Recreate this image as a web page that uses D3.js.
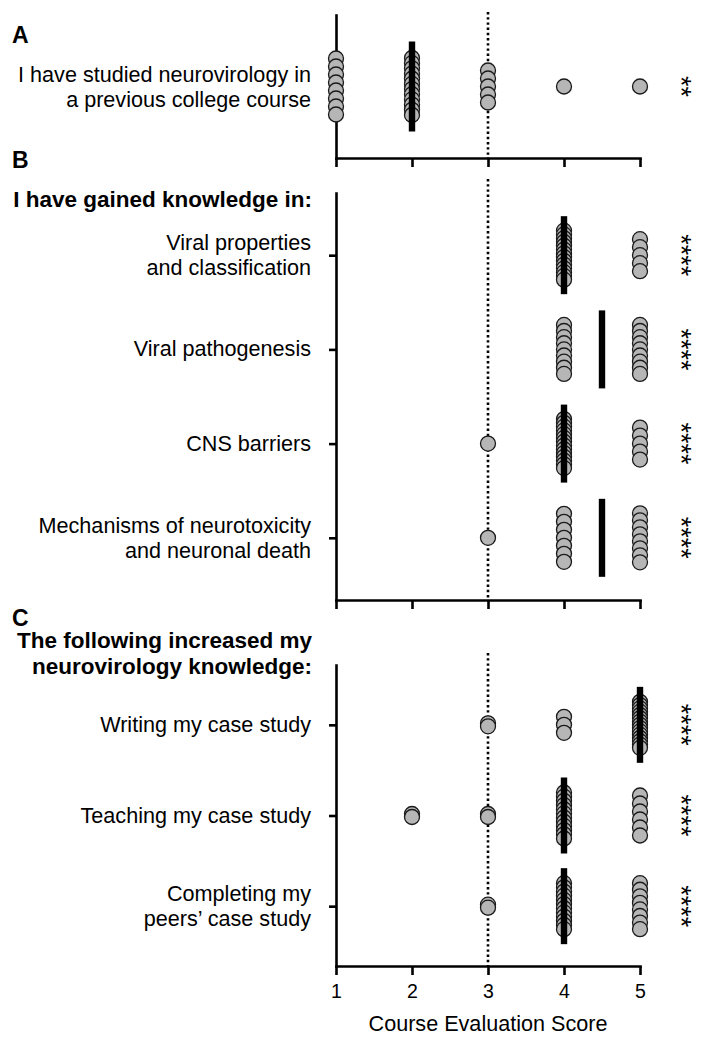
<!DOCTYPE html>
<html>
<head>
<meta charset="utf-8">
<script src="https://cdn.jsdelivr.net/npm/d3@7"></script>
<style>
  body { margin: 0; background: #fff; }
  svg { display: block; font-family: "Liberation Sans", Arial, Helvetica, sans-serif; }
</style>
</head>
<body>
<svg id="chart" width="704" height="1044"></svg>
<script>
// scores on the x axis
const scores = [1, 2, 3, 4, 5];

// panel A
const labelsA = [["I have studied neurovirology in", "a previous college course"]];
const countsA = [[8, 12, 5, 1, 1]];
const sigA = ["**"];

// panel B
const titleB = ["I have gained knowledge in:"];
const labelsB = [
  ["Viral properties", "and classification"],
  ["Viral pathogenesis"],
  ["CNS barriers"],
  ["Mechanisms of neurotoxicity", "and neuronal death"]
];
const countsB = [
  [0, 0, 0, 14, 5],
  [0, 0, 0, 9, 9],
  [0, 0, 1, 14, 5],
  [0, 0, 1, 7, 8]
];
const sigB = ["****", "****", "****", "****"];

// panel C
const titleC = ["The following increased my", "neurovirology knowledge:"];
const labelsC = [
  ["Writing my case study"],
  ["Teaching my case study"],
  ["Completing my", "peers\u2019 case study"]
];
const countsC = [
  [0, 0, 2, 3, 15],
  [0, 2, 2, 12, 6],
  [0, 0, 2, 12, 8]
];
const sigC = ["****", "****", "****"];

const xLabel = "Course Evaluation Score";

// ---- layout ----
const svg = d3.select("#chart");
const x = d3.scaleLinear().domain([1, 5]).range([336, 640]);
const labelEnd = 311;
const fontSize = 21.6;
const dotR = 7.5;

const panels = [
  {letter: "A", letterY: 43, top: 15, bottom: 158, dotTop: 12, labels: labelsA, counts: countsA, sig: sigA,
   title: [], titleY: 0, barHalf: 45, span: 57, tickLabels: false},
  {letter: "B", letterY: 168, top: 193, bottom: 600, dotTop: 179, labels: labelsB, counts: countsB, sig: sigB,
   title: titleB, titleY: 207, barHalf: 39, span: 49, tickLabels: false},
  {letter: "C", letterY: 626, top: 665, bottom: 966, dotTop: 653, labels: labelsC, counts: countsC, sig: sigC,
   title: titleC, titleY: 648, barHalf: 38, span: 46, tickLabels: true}
];

function offsets(n, span) {
  if (n <= 1) return [0];
  const s = n === 2 ? 3 : Math.min(8, span / (n - 1));
  return d3.range(n).map(i => (i - (n - 1) / 2) * s);
}

panels.forEach(p => {
  const g = svg.append("g");
  const rows = d3.range(p.labels.length);
  const y = d3.scalePoint().domain(rows).range([p.top, p.bottom]).padding(0.66);

  // panel letter
  g.append("text")
    .attr("x", 12).attr("y", p.letterY)
    .attr("font-size", 23).attr("font-weight", "bold")
    .text(p.letter);

  // bold title
  p.title.forEach((t, i) => {
    g.append("text")
      .attr("x", labelEnd + 1).attr("y", p.titleY + i * 26)
      .attr("text-anchor", "end")
      .attr("font-size", 22.5).attr("font-weight", "bold")
      .text(t);
  });

  // dotted reference line at 3
  g.append("line")
    .attr("x1", x(3)).attr("x2", x(3))
    .attr("y1", p.dotTop).attr("y2", p.bottom)
    .attr("stroke", "#000").attr("stroke-width", 2.6)
    .attr("stroke-dasharray", "2.4,2.8");

  // axes
  const xAxis = d3.axisBottom(x).tickValues(scores).tickSize(9).tickSizeOuter(0)
    .tickFormat(p.tickLabels ? d3.format("d") : "");
  const gx = g.append("g").attr("transform", `translate(0,${p.bottom})`).call(xAxis);
  const yAxis = d3.axisLeft(y).tickSize(7).tickSizeOuter(0).tickFormat("");
  const gy = g.append("g").attr("transform", `translate(${x(1)},0)`).call(yAxis);
  [gx, gy].forEach(a => {
    a.selectAll("path, line").attr("stroke", "#000").attr("stroke-width", 2.6);
    a.select(".domain").attr("stroke-linecap", "square");
  });
  gx.selectAll("text").attr("font-size", 19.5).attr("fill", "#000")
    .attr("font-family", "Liberation Sans, Arial, sans-serif").attr("dy", "1.05em");

  // row labels
  p.labels.forEach((lines, r) => {
    const c = y(r);
    const t = g.append("text").attr("text-anchor", "end").attr("font-size", fontSize);
    lines.forEach((line, i) => {
      const base = lines.length === 1 ? c + 7 : c - 5 + i * 25;
      t.append("tspan").attr("x", labelEnd).attr("y", base).text(line);
    });
  });

  // dots
  const pts = [];
  p.counts.forEach((row, r) => {
    row.forEach((n, k) => {
      if (n > 0) offsets(n, p.span).forEach(o => pts.push({r, score: scores[k], o}));
    });
  });
  g.append("g").selectAll("circle").data(pts).join("circle")
    .attr("cx", d => x(d.score))
    .attr("cy", d => y(d.r) + d.o)
    .attr("r", dotR)
    .attr("fill", "#b6b6b6")
    .attr("stroke", "#1a1a1a")
    .attr("stroke-width", 1.3);

  // median bars
  p.counts.forEach((row, r) => {
    const all = row.flatMap((n, k) => d3.range(n).map(() => scores[k]));
    const med = d3.median(all);
    g.append("rect")
      .attr("x", x(med) - 3.2).attr("width", 6.4)
      .attr("y", y(r) - p.barHalf).attr("height", 2 * p.barHalf)
      .attr("fill", "#000");
  });

  // significance stars
  p.sig.forEach((s, r) => {
    g.append("text")
      .attr("transform", `translate(672,${y(r)}) rotate(90)`)
      .attr("text-anchor", "middle")
      .attr("font-size", 27)
      .text(s);
  });
});

// x axis title
svg.append("text")
  .attr("x", x(3)).attr("y", 1031)
  .attr("text-anchor", "middle")
  .attr("font-size", fontSize)
  .text(xLabel);
</script>
</body>
</html>
